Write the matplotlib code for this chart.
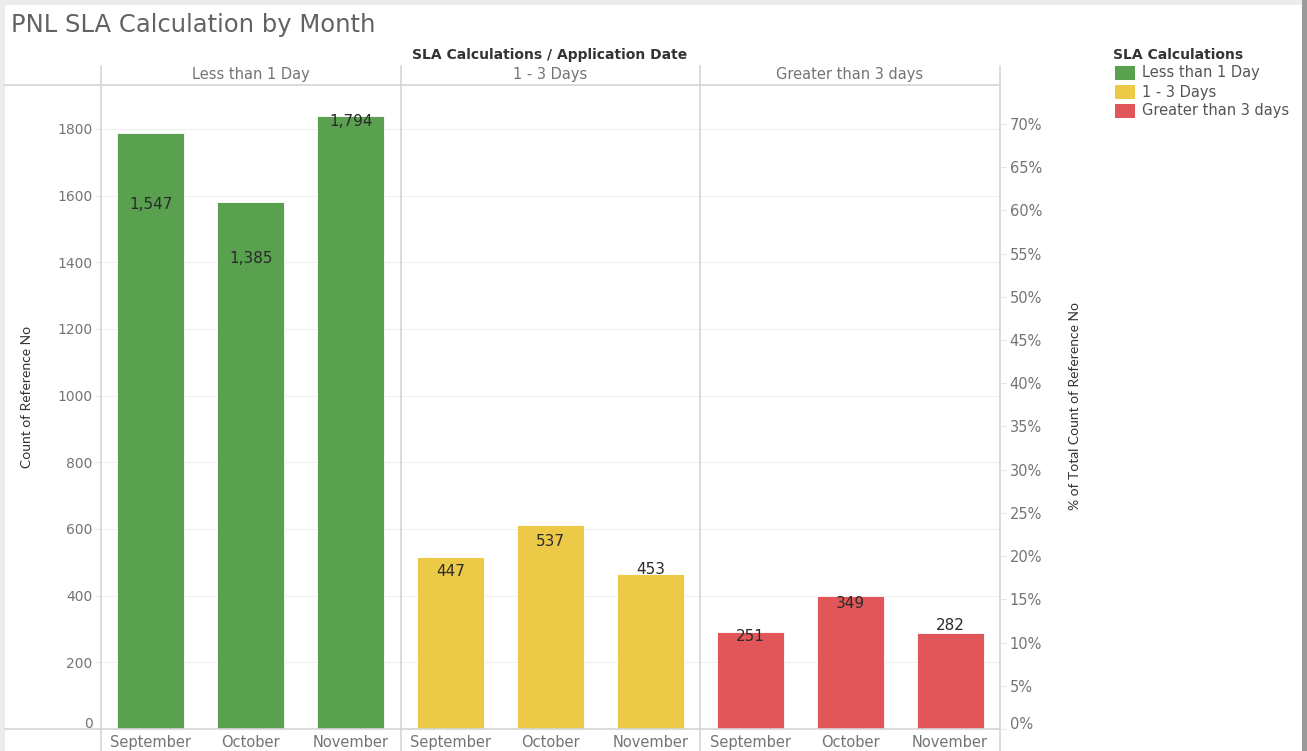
import matplotlib
matplotlib.use("Agg")
import matplotlib.pyplot as plt
from matplotlib.lines import Line2D
from matplotlib.patches import Rectangle
import matplotlib.transforms as mtransforms

plt.rcParams['font.family'] = ['DejaVu Sans']

# ---- data ----
categories = ["Less than 1 Day", "1 - 3 Days", "Greater than 3 days"]
months = ["September", "October", "November"]
counts_less1 = [1547, 1385, 1794]
counts_1to3 = [447, 537, 453]
counts_gt3 = [251, 349, 282]
colors = ["#59A14F", "#EDC948", "#E15759"]
count_ticks = [0, 200, 400, 600, 800, 1000, 1200, 1400, 1600, 1800]
pct_ticks = [0, 5, 10, 15, 20, 25, 30, 35, 40, 45, 50, 55, 60, 65, 70]

series = [counts_less1, counts_1to3, counts_gt3]
totals = [sum(s[i] for s in series) for i in range(len(months))]

W, H = 1307, 751
fig = plt.figure(figsize=(W / 100, H / 100), dpi=100)
fig.patch.set_facecolor("white")


def fx(x):
    return x / W


def fy(y):
    return 1 - y / H


LINE = "#d4d4d4"
TXT = "#747474"

# outer dashboard border/shadow
fig.add_artist(Rectangle((0, 0), fx(5), 1, transform=fig.transFigure, color="#ececec", lw=0))
fig.add_artist(Rectangle((0, fy(5)), 1, fy(0) - fy(5), transform=fig.transFigure, color="#ececec", lw=0))
fig.add_artist(Rectangle((fx(1302), 0), fx(5), 1, transform=fig.transFigure, color="#9a9a9a", lw=0))

# main axes (count scale)
ax = fig.add_axes([fx(101), fy(729), fx(1000 - 101), fy(85) - fy(729)])
ax.set_xlim(-0.5, 8.5)
ax.set_ylim(0, 1932)
for s in ax.spines.values():
    s.set_visible(False)
ax.set_yticks(count_ticks)
ax.set_yticklabels([str(t) for t in count_ticks])
ax.tick_params(axis="y", length=4, width=0.8, color="#e6e6e6", pad=2,
               labelsize=10, labelcolor=TXT)
ax.grid(axis="y", color="#f0f0f0", lw=0.8)
ax.set_axisbelow(True)
xpos = list(range(9))
ax.set_xticks(xpos)
ax.set_xticklabels(months * 3)
ax.tick_params(axis="x", length=0, pad=4, labelsize=10.5, labelcolor=TXT)
zero_lbl = ax.get_yticklabels()[0]
zero_lbl.set_transform(zero_lbl.get_transform() +
                       mtransforms.ScaledTranslation(0, 6 / 100, fig.dpi_scale_trans))

# twin axes (percent of total)
ax2 = ax.twinx()
ax2.set_ylim(0, 74.5)
for s in ax2.spines.values():
    s.set_visible(False)
ax2.set_yticks(pct_ticks)
ax2.set_yticklabels([f"{t}%" for t in pct_ticks])
ax2.tick_params(axis="y", length=4, width=0.8, color="#e6e6e6", pad=3,
                labelsize=10.5, labelcolor=TXT)
zero_lbl2 = ax2.get_yticklabels()[0]
zero_lbl2.set_transform(zero_lbl2.get_transform() +
                        mtransforms.ScaledTranslation(0, 6 / 100, fig.dpi_scale_trans))

for ci, (vals, col) in enumerate(zip(series, colors)):
    xs = [ci * 3 + i for i in range(3)]
    pcts = [v / t * 100 for v, t in zip(vals, totals)]
    ax2.bar(xs, pcts, width=0.67, color=col, edgecolor="white", linewidth=0.6, zorder=2)
    for x, v in zip(xs, vals):
        ax2.annotate(f"{v:,}", xy=(x, v), xycoords=ax.transData,
                     xytext=(0, 9), textcoords="offset pixels",
                     ha="center", va="center", fontsize=11, color="#2a2a2a", zorder=5)

# structural lines
for x in [101, 401, 700, 1000]:
    fig.add_artist(Line2D([fx(x), fx(x)], [fy(66), fy(751)], transform=fig.transFigure,
                          color=LINE, lw=1.2))
fig.add_artist(Line2D([fx(5), fx(1000)], [fy(85), fy(85)], transform=fig.transFigure,
                      color=LINE, lw=1.2))
fig.add_artist(Line2D([fx(5), fx(1000)], [fy(729), fy(729)], transform=fig.transFigure,
                      color=LINE, lw=1.2))

# texts
fig.text(fx(11), fy(25), "PNL SLA Calculation by Month", fontsize=17.5,
         color="#626262", ha="left", va="center")
fig.text(fx(550), fy(55), "SLA Calculations / Application Date", fontsize=10,
         fontweight="bold", color="#333333", ha="center", va="center")
for cx, cat in zip([251, 550, 850], categories):
    fig.text(fx(cx), fy(74), cat, fontsize=10.5, color=TXT, ha="center", va="center")

narrow = ["Liberation Sans Narrow", "Lato"]
fig.text(fx(27), fy(397), "Count of Reference No", rotation=90, fontsize=10,
         family=narrow, color="#333333", ha="center", va="center")
fig.text(fx(1075), fy(406), "% of Total Count of Reference No", rotation=90, fontsize=10,
         family=narrow, color="#333333", ha="center", va="center")

# legend
fig.text(fx(1113), fy(55), "SLA Calculations", fontsize=10, fontweight="bold",
         color="#333333", ha="left", va="center")
for i, (cat, col) in enumerate(zip(categories, colors)):
    yc = 73 + i * 19
    fig.add_artist(Rectangle((fx(1115), fy(yc + 7)), fx(20), fy(yc - 7) - fy(yc + 7),
                             transform=fig.transFigure, color=col, lw=0))
    fig.text(fx(1142), fy(yc), cat, fontsize=10.5, color="#555555", ha="left", va="center")

fig.savefig("out.png", dpi=100)
